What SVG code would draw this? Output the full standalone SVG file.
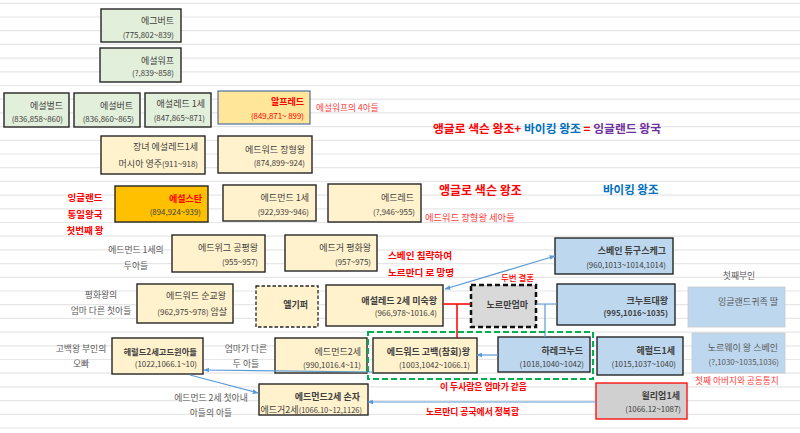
<svg xmlns="http://www.w3.org/2000/svg" width="800" height="433" viewBox="0 0 800 433">
<style>
text{font-family:"Noto Sans CJK KR","Noto Sans",sans-serif}
.grid line{stroke:#e6e6e6;stroke-width:1.2}
.bx{stroke:#262626;stroke-width:1.4}
.gr{fill:#e2efda}
.yl{fill:#fff2cc}
.bl{fill:#bdd7ee}
.nm{font-size:9px;fill:#404040;text-anchor:end}
.dt{font-size:7.9px;fill:#404040;text-anchor:end}
.b{font-weight:bold}
.lb{font-size:8.8px;fill:#595959;text-anchor:middle}
.rd{fill:#ff0000;font-weight:bold}
.rl{fill:#ff3c3c}
.cb{stroke:#5b9bd5;stroke-width:1.2;fill:none}
.cr{stroke:#ff0000;stroke-width:1.5;fill:none}
</style>
<defs>
<marker id="ah" viewBox="0 0 10 10" refX="9" refY="5" markerWidth="6" markerHeight="6" orient="auto-start-reverse" markerUnits="userSpaceOnUse">
<path d="M0,1 L10,5 L0,9 z" fill="#5b9bd5"/>
</marker>
</defs>
<rect width="800" height="433" fill="#ffffff"/>
<g class="grid">
<line x1="0" y1="3.3" x2="800" y2="3.3"/><line x1="0" y1="17" x2="800" y2="17"/><line x1="0" y1="30.7" x2="800" y2="30.7"/><line x1="0" y1="44.4" x2="800" y2="44.4"/><line x1="0" y1="58.1" x2="800" y2="58.1"/><line x1="0" y1="71.8" x2="800" y2="71.8"/><line x1="0" y1="85.5" x2="800" y2="85.5"/><line x1="0" y1="99.2" x2="800" y2="99.2"/><line x1="0" y1="112.9" x2="800" y2="112.9"/><line x1="0" y1="126.6" x2="800" y2="126.6"/><line x1="0" y1="140.3" x2="800" y2="140.3"/><line x1="0" y1="154" x2="800" y2="154"/><line x1="0" y1="167.7" x2="800" y2="167.7"/><line x1="0" y1="181.4" x2="800" y2="181.4"/><line x1="0" y1="195.1" x2="800" y2="195.1"/><line x1="0" y1="208.8" x2="800" y2="208.8"/><line x1="0" y1="222.5" x2="800" y2="222.5"/><line x1="0" y1="236.2" x2="800" y2="236.2"/><line x1="0" y1="249.9" x2="800" y2="249.9"/><line x1="0" y1="263.6" x2="800" y2="263.6"/><line x1="0" y1="277.3" x2="800" y2="277.3"/><line x1="0" y1="291" x2="800" y2="291"/><line x1="0" y1="304.7" x2="800" y2="304.7"/><line x1="0" y1="318.4" x2="800" y2="318.4"/><line x1="0" y1="332.1" x2="800" y2="332.1"/><line x1="0" y1="345.8" x2="800" y2="345.8"/><line x1="0" y1="359.5" x2="800" y2="359.5"/><line x1="0" y1="373.2" x2="800" y2="373.2"/><line x1="0" y1="386.9" x2="800" y2="386.9"/><line x1="0" y1="400.6" x2="800" y2="400.6"/><line x1="0" y1="414.3" x2="800" y2="414.3"/><line x1="0" y1="428" x2="800" y2="428"/>
</g>

<g id="egbert"><rect class="bx gr" x="101" y="9" width="80" height="33"/><text class="nm" x="174" y="24">에그버트</text><text class="dt" x="174" y="37.5">(775,802~839)</text></g>
<g id="ethelwulf"><rect class="bx gr" x="100" y="48" width="81" height="34"/><text class="nm" x="174" y="64">에설워프</text><text class="dt" x="174" y="76">(?,839~858)</text></g>
<g id="ethelbald"><rect class="bx gr" x="4" y="93" width="65" height="34"/><text class="nm" x="63" y="108.5">에설벌드</text><text class="dt" x="63" y="121.5">(836,858~860)</text></g>
<g id="ethelbert"><rect class="bx gr" x="74" y="93" width="66" height="34"/><text class="nm" x="133" y="108.5">에설버트</text><text class="dt" x="134" y="121.5">(836,860~865)</text></g>
<g id="ethelred1"><rect class="bx gr" x="145" y="93" width="66" height="34"/><text class="nm" x="205" y="107">애설레드 1세</text><text class="dt" x="205" y="120.5">(847,865~871)</text></g>
<g id="alfred"><rect x="218" y="91" width="92" height="33" fill="#ffe699" stroke="#2f5597" stroke-width="1"/><text class="nm b" x="304" y="105" style="fill:#ff0000">알프레드</text><text class="dt" x="304" y="119" style="fill:#ff0000">(849,871~ 899)</text></g>

<g id="ethelflaed"><rect class="bx yl" x="101" y="136" width="104" height="38"/><text class="nm" x="198" y="150">장녀 에설레드1세</text><text class="nm" x="198" y="166.5">머시아 영주<tspan font-size="7.9">(911~918)</tspan></text></g>
<g id="edward-elder"><rect class="bx yl" x="218" y="136" width="94" height="37"/><text class="nm" x="305" y="153">에드워드 장형왕</text><text class="dt" x="305" y="166">(874,899~924)</text></g>
<g id="athelstan"><rect class="bx" x="115" y="186" width="93" height="36" fill="#ffc000"/><text class="nm b" x="202" y="202" style="fill:#ff0000">에설스탄</text><text class="dt" x="201" y="215">(894,924~939)</text></g>
<g id="edmund1"><rect class="bx yl" x="223" y="185" width="93" height="36"/><text class="nm" x="309" y="201">에드먼드 1세</text><text class="dt" x="309" y="214.5">(922,939~946)</text></g>
<g id="eadred"><rect class="bx yl" x="328" y="184" width="93" height="38"/><text class="nm" x="414" y="201">에드레드</text><text class="dt" x="415" y="215">(?,946~955)</text></g>
<g id="eadwig"><rect class="bx yl" x="172" y="235" width="93" height="37"/><text class="nm" x="258" y="251">에드위그 공평왕</text><text class="dt" x="258" y="264.5">(955~957)</text></g>
<g id="edgar"><rect class="bx yl" x="285" y="235" width="92" height="36"/><text class="nm" x="371" y="251">에드거 평화왕</text><text class="dt" x="371" y="264.5">(957~975)</text></g>
<g id="edward-martyr"><rect class="bx yl" x="137" y="284" width="96" height="39"/><text class="nm" x="226" y="298.5">에드워드 순교왕</text><text class="dt" x="227" y="315">(962,975~978) <tspan font-size="9">암살</tspan></text></g>
<g id="aelfgifu"><rect x="256" y="286" width="62" height="41" fill="#fff2cc" stroke="#262626" stroke-width="1.3" stroke-dasharray="3.5 2"/><text class="nm b" x="308" y="307.5">엘기퍼</text></g>
<g id="ethelred2"><rect class="bx yl" x="326" y="285" width="117" height="41"/><text class="nm b" x="437" y="303.5">애설레드 2세 미숙왕</text><text class="dt" x="437" y="316">(966,978~1016.4)</text></g>
<g id="emma"><rect x="471" y="285" width="65" height="42" fill="#d9d9d9" stroke="#111" stroke-width="2.5" stroke-dasharray="5 3"/><text class="nm b" x="528" y="308">노르만엄마</text></g>
<g id="sweyn"><rect class="bx bl" x="555" y="238" width="118" height="36"/><text class="nm b" x="666" y="254">스베인 튜구스케그</text><text class="dt" x="666" y="267.5">(960,1013~1014,1014)</text></g>
<g id="cnut"><rect class="bx bl" x="557" y="284" width="118" height="41"/><text class="nm b" x="668" y="303.5">크누트대왕</text><text class="dt b" x="668" y="316">(995,1016~1035)</text></g>
<g id="harthacnut"><rect class="bx bl" x="498" y="337" width="92" height="35"/><text class="nm b" x="583" y="353.5">하레크누드</text><text class="dt" x="584" y="366.5">(1018,1040~1042)</text></g>
<g id="harold1"><rect class="bx bl" x="597" y="337" width="86" height="38"/><text class="nm b" x="675" y="353.5">헤럴드1세</text><text class="dt" x="676" y="367">(1015,1037~1040)</text></g>
<g id="noble-daughter"><rect x="688" y="287" width="97" height="40" fill="#bdd7ee" stroke="#c8c8c8" stroke-width="0.8"/><text class="nm" x="778" y="305" style="fill:#595959">잉글랜드귀족 딸</text></g>
<g id="norway-sweyn"><rect x="692" y="333" width="93" height="40" fill="#bdd7ee" stroke="#c8c8c8" stroke-width="0.8"/><text class="nm" x="778" y="351" style="fill:#595959">노르웨이 왕 스베인</text><text class="dt" x="779" y="364.5" style="fill:#595959">(?,1030~1035,1036)</text></g>
<g id="william1"><rect x="596" y="383" width="91" height="36" fill="#d0d0d0" stroke="#ff0000" stroke-width="1.3"/><text class="nm b" x="680" y="398.5">윌리엄1세</text><text class="dt" x="681" y="412">(1066.12~1087)</text></g>
<g id="edward-confessor"><rect class="bx yl" x="373" y="338" width="104" height="35"/><text class="nm b" x="470" y="354.5">에드워드 고백(참회)왕</text><text class="dt" x="470" y="367.5">(1003,1042~1066.1)</text></g>
<g id="edmund2"><rect class="bx yl" x="275" y="338" width="92" height="35"/><text class="nm" x="361" y="354.5">에드먼드2세</text><text class="dt" x="361" y="367.5">(990,1016.4~11)</text></g>
<g id="harold2"><rect class="bx yl" x="112" y="338" width="91" height="36"/><text class="nm b" x="197" y="354.5" style="font-size:8.3px">헤럴드2세고드윈아들</text><text class="dt" x="197" y="366.5">(1022,1066.1~10)</text></g>
<g id="edgar-atheling"><rect class="bx yl" x="259" y="384" width="109" height="31"/><text class="nm b" x="360" y="399.5">에드먼드2세 손자</text><text class="nm" x="362" y="412.5">에드거2세<tspan font-size="7.5">(1066.10~12,1126)</tspan></text></g>

<g id="labels">
<text class="rl" x="316" y="111" font-size="8.7">에설워프의 4아들</text>
<text x="433" y="133" font-size="11.8" font-weight="bold"><tspan fill="#ff0000">앵글로 색슨 왕조+ </tspan><tspan fill="#0070c0">바이킹 왕조 </tspan><tspan fill="#ff0000">= </tspan><tspan fill="#7030a0">잉글랜드 왕국</tspan></text>
<text class="rd" x="439" y="194.5" font-size="12">앵글로 색슨 왕조</text>
<text x="603" y="193.5" font-size="11.5" font-weight="bold" fill="#0070c0">바이킹 왕조</text>
<text class="rl" x="425" y="220.5" font-size="9.3">에드워드 장형왕 세아들</text>
<text class="rd" x="85" y="200.5" font-size="9.5" text-anchor="middle">잉글랜드</text>
<text class="rd" x="85" y="218" font-size="9.5" text-anchor="middle">통일왕국</text>
<text class="rd" x="85" y="234" font-size="9.5" text-anchor="middle">첫번째 왕</text>
<text class="lb" x="136" y="252.5">에드먼드 1세의</text>
<text class="lb" x="136" y="268.5">두아들</text>
<text class="lb" x="101" y="297.5">평화왕의</text>
<text class="lb" x="101" y="313.5">엄마 다른 첫아들</text>
<text class="lb" x="81" y="351.5">고백왕 부인의</text>
<text class="lb" x="81" y="366.5">오빠</text>
<text class="lb" x="246" y="351.5">엄마가 다른</text>
<text class="lb" x="246" y="366.5">두 아들</text>
<text class="lb" x="211" y="401">에드먼드 2세 첫아내</text>
<text class="lb" x="211" y="416">아들의 아들</text>
<text class="rd" x="388" y="259" font-size="9.6">스베인 침략하여</text>
<text class="rd" x="388" y="275.5" font-size="9.6">노르만디 로 망명</text>
<text x="501" y="281" font-size="8.5" fill="#ff0000" font-weight="500">두번 결혼</text>
<text class="lb" x="739" y="278.5">첫째부인</text>
<text class="rl" x="695" y="383.5" font-size="8.7">첫째 아버지와 공동통치</text>
<text class="rd" x="440" y="390" font-size="8.8">이 두사람은 엄마가 같음</text>
<text class="rd" x="426" y="415" font-size="8.8">노르만디 공국에서 정복함</text>
</g>

<g id="connectors">
<path class="cb" d="M445,289 L555,256" marker-start="url(#ah)" marker-end="url(#ah)"/>
<path class="cr" d="M443,304 H471 M457,304 V338"/>
<path class="cb" d="M536,304 H557 M545,304 V337"/>
<path class="cb" d="M498,355 H477" marker-end="url(#ah)"/>
<path class="cb" d="M373,372 L204,370" marker-end="url(#ah)"/>
<path class="cb" d="M190,375 L258,393" marker-end="url(#ah)"/>
<path class="cb" d="M596,402 H368" marker-end="url(#ah)"/>
<rect x="368" y="332" width="225" height="47" fill="none" stroke="#00b050" stroke-width="2" stroke-dasharray="6 3"/>
</g>
</svg>
